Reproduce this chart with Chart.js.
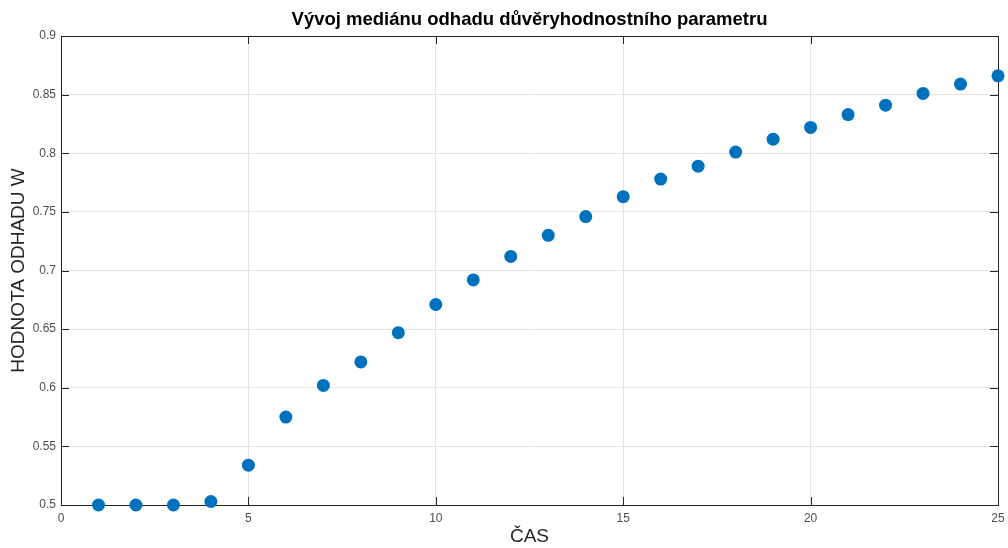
<!DOCTYPE html>
<html>
<head>
<meta charset="utf-8">
<title>Vývoj mediánu odhadu</title>
<script src="https://cdn.jsdelivr.net/npm/chart.js@4"></script>
<style>
  html, body { margin: 0; padding: 0; background: #fff; }
  #wrap { width: 1008px; height: 548px; }
</style>
</head>
<body>
<div id="wrap"><canvas id="myChart" width="1008" height="548"></canvas></div>
<script>
// time steps and median estimate of the trust parameter w
const casValues = [1, 2, 3, 4, 5, 6, 7, 8, 9, 10, 11, 12, 13, 14, 15, 16, 17, 18, 19, 20, 21, 22, 23, 24, 25];
const medianW = [0.500, 0.500, 0.500, 0.503, 0.534, 0.575, 0.602, 0.622, 0.647, 0.671, 0.692, 0.712, 0.730,
    0.746, 0.763, 0.778, 0.789, 0.801, 0.812, 0.822, 0.833, 0.841, 0.851, 0.859, 0.866];
const xTicks = [0, 5, 10, 15, 20, 25];
const yTicks = [0.5, 0.55, 0.6, 0.65, 0.7, 0.75, 0.8, 0.85, 0.9];
const chartTitle = 'Vývoj mediánu odhadu důvěryhodnostního parametru';

const fontFamily = '"Liberation Sans", Arial, Helvetica, sans-serif';
const axisColor = '#262626';

// box around the axes plus inward tick marks, like a matlab figure
const boxPlugin = {
    id: 'axesBox',
    beforeDatasetsDraw(chart) {
        const { ctx, chartArea: a, scales } = chart;
        const len = 8;
        ctx.save();
        ctx.strokeStyle = axisColor;
        ctx.lineWidth = 1;
        ctx.beginPath();
        scales.x.ticks.forEach(t => {
            const px = Math.round(scales.x.getPixelForValue(t.value)) + 0.5;
            ctx.moveTo(px, a.bottom); ctx.lineTo(px, a.bottom - len);
            ctx.moveTo(px, a.top); ctx.lineTo(px, a.top + len);
        });
        scales.y.ticks.forEach(t => {
            const py = Math.round(scales.y.getPixelForValue(t.value)) + 0.5;
            ctx.moveTo(a.left, py); ctx.lineTo(a.left + len, py);
            ctx.moveTo(a.right, py); ctx.lineTo(a.right - len, py);
        });
        ctx.stroke();
        ctx.strokeRect(Math.round(a.left) + 0.5, Math.round(a.top) + 0.5,
            Math.round(a.right - a.left), Math.round(a.bottom - a.top));
        ctx.restore();
    },
    // title centred over the plot area, not the whole canvas
    afterDraw(chart) {
        const { ctx, chartArea: a } = chart;
        ctx.save();
        ctx.fillStyle = '#000';
        ctx.font = 'bold 18.5px ' + fontFamily;
        ctx.textAlign = 'center';
        ctx.textBaseline = 'middle';
        ctx.fillText(chartTitle, (a.left + a.right) / 2, 20);
        ctx.restore();
    }
};

const ctx = document.getElementById('myChart').getContext('2d');
const myChart = new Chart(ctx, {
    type: 'scatter',
    data: {
        datasets: [{
            label: 'median w',
            data: casValues.map((c, i) => ({ x: c, y: medianW[i] })),
            backgroundColor: '#0072BD',
            borderColor: '#0072BD',
            borderWidth: 0,
            pointRadius: 6.5,
            pointHoverRadius: 6.5,
            clip: false
        }]
    },
    options: {
        responsive: false,
        animation: false,
        events: [],
        layout: { padding: { left: 0, right: 10, top: 36, bottom: 0 } },
        plugins: {
            legend: { display: false },
            tooltip: { enabled: false },
            title: { display: false }
        },
        scales: {
            x: {
                type: 'linear',
                min: 0,
                max: 25,
                afterBuildTicks: scale => { scale.ticks = xTicks.map(v => ({ value: v })); },
                afterFit: scale => {
                    scale.height = 43;
                    scale.paddingLeft = 0;
                    scale.paddingRight = 0;
                },
                grid: { color: '#e3e3e3', drawTicks: false },
                border: { display: false },
                ticks: {
                    color: '#4d4d4d',
                    padding: 6,
                    maxRotation: 0,
                    font: { family: fontFamily, size: 12 },
                    callback: v => String(v)
                },
                title: {
                    display: true,
                    text: 'ČAS',
                    color: axisColor,
                    font: { family: fontFamily, size: 19 },
                    padding: 0
                }
            },
            y: {
                type: 'linear',
                min: 0.5,
                max: 0.9,
                afterBuildTicks: scale => { scale.ticks = yTicks.map(v => ({ value: v })); },
                afterFit: scale => {
                    scale.width = 61;
                    scale.paddingTop = 0;
                    scale.paddingBottom = 0;
                },
                grid: { color: '#e3e3e3', drawTicks: false },
                border: { display: false },
                ticks: {
                    color: '#4d4d4d',
                    padding: 5,
                    font: { family: fontFamily, size: 12 },
                    callback: v => String(+v.toFixed(2))
                },
                title: {
                    display: true,
                    text: 'HODNOTA ODHADU W',
                    color: axisColor,
                    font: { family: fontFamily, size: 19 },
                    padding: { top: 7, bottom: 0 }
                }
            }
        }
    },
    plugins: [boxPlugin]
});
</script>
</body>
</html>
